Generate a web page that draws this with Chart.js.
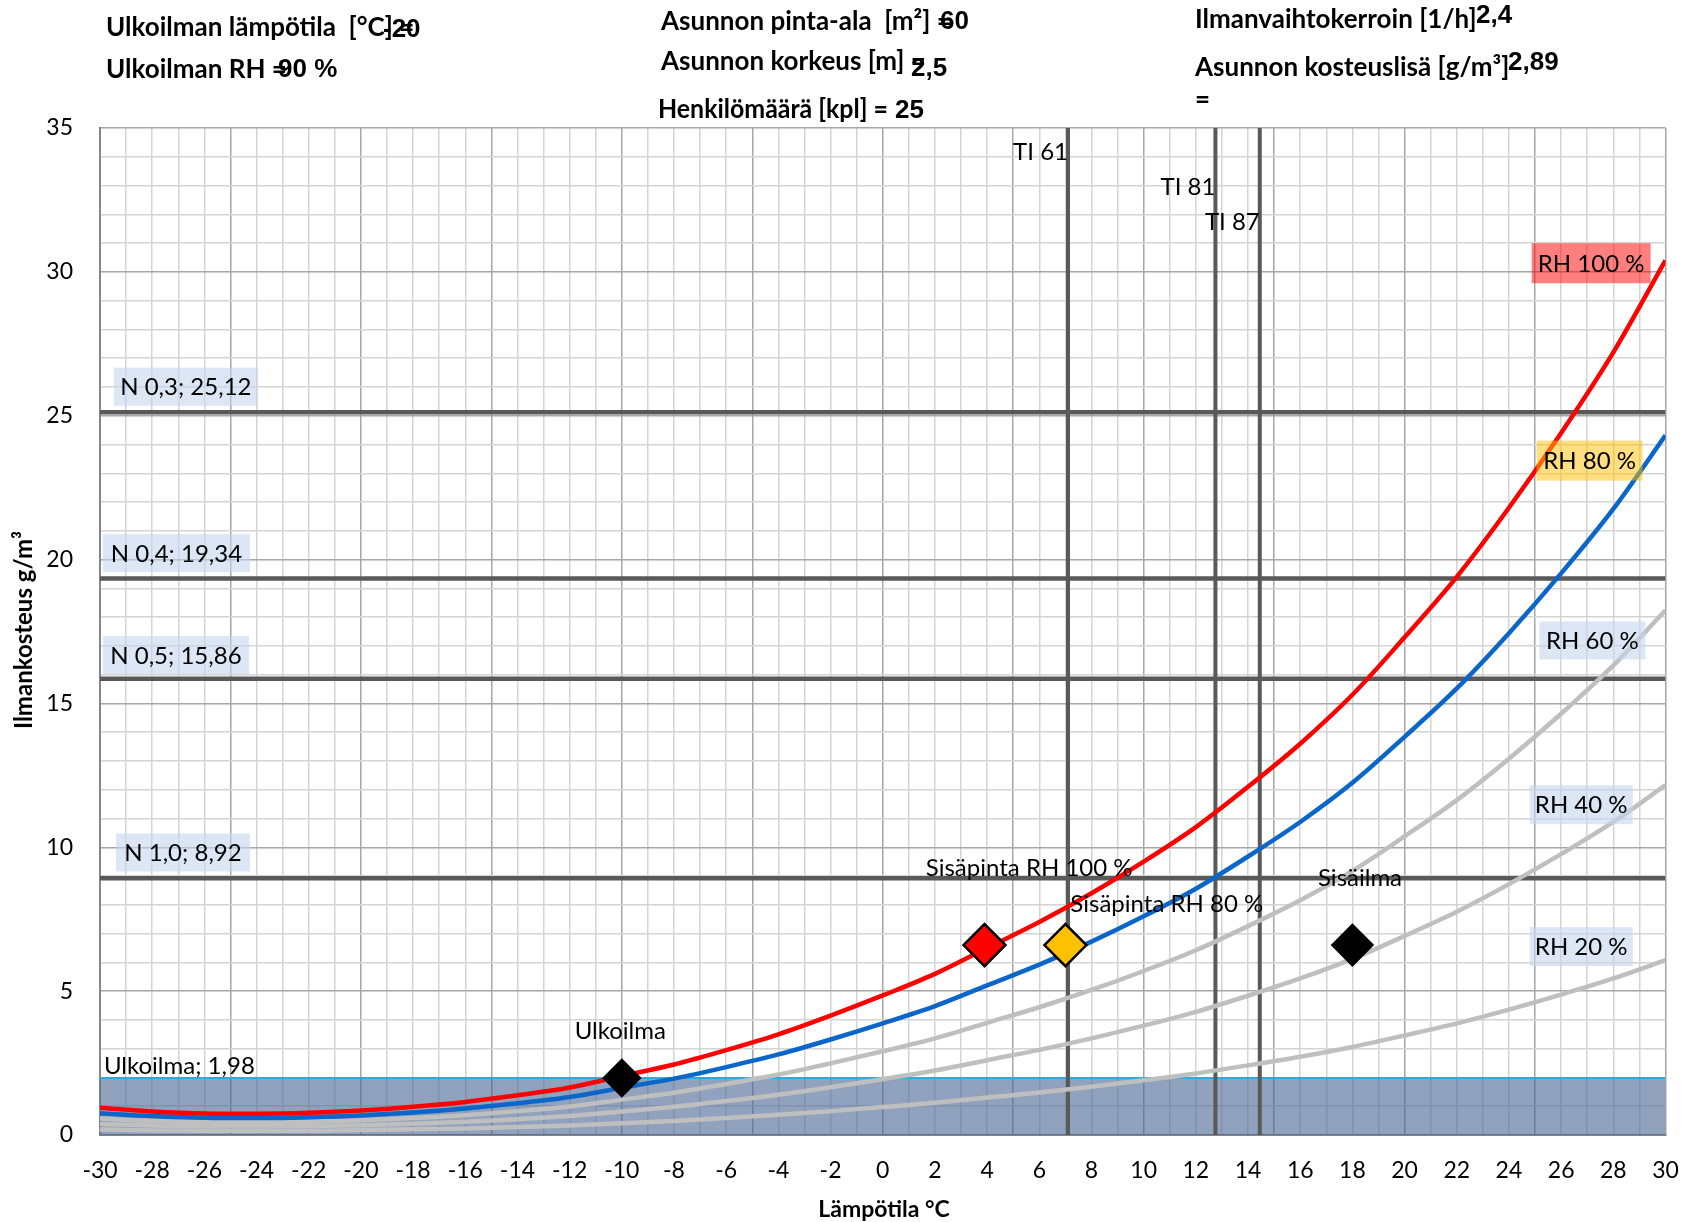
<!DOCTYPE html>
<html>
<head>
<meta charset="utf-8">
<script src="https://cdn.jsdelivr.net/npm/chart.js@4.4.1/dist/chart.umd.min.js"></script>
<style>
html, body { margin: 0; padding: 0; background: #fff; }
</style>
</head>
<body>
<canvas id="chart" width="1688" height="1222"></canvas>
<script>
// temperature steps of the RH curves
var temps = [-30,-28,-26,-24,-22,-20,-18,-16,-14,-12,-10,-8,-6,-4,-2,0,2,4,6,8,10,12,14,16,18,20,22,24,26,28,30];
var rh100 = [0.95,0.82,0.75,0.74,0.77,0.85,0.98,1.15,1.38,1.65,2.05,2.45,2.95,3.5,4.15,4.85,5.6,6.5,7.4,8.4,9.5,10.7,12.1,13.6,15.3,17.3,19.4,21.8,24.4,27.2,30.4];
var rh80 = [0.76,0.66,0.60,0.59,0.62,0.68,0.78,0.92,1.10,1.32,1.64,1.96,2.36,2.80,3.32,3.88,4.48,5.20,5.92,6.72,7.60,8.56,9.68,10.88,12.24,13.84,15.52,17.44,19.52,21.76,24.32];
var rh60 = [0.57,0.49,0.45,0.44,0.46,0.51,0.59,0.69,0.83,0.99,1.23,1.47,1.77,2.10,2.49,2.91,3.36,3.90,4.44,5.04,5.70,6.42,7.26,8.16,9.18,10.38,11.64,13.08,14.64,16.32,18.24];
var rh40 = [0.38,0.33,0.30,0.30,0.31,0.34,0.39,0.46,0.55,0.66,0.82,0.98,1.18,1.40,1.66,1.94,2.24,2.60,2.96,3.36,3.80,4.28,4.84,5.44,6.12,6.92,7.76,8.72,9.76,10.88,12.16];
var rh20 = [0.19,0.16,0.15,0.15,0.15,0.17,0.20,0.23,0.28,0.33,0.41,0.49,0.59,0.70,0.83,0.97,1.12,1.30,1.48,1.68,1.90,2.14,2.42,2.72,3.06,3.46,3.88,4.36,4.88,5.44,6.08];

// N levels (horizontal lines)
var nNames = ['N 0,3', 'N 0,4', 'N 0,5', 'N 1,0'];
var nValues = [25.12, 19.34, 15.86, 8.92];

// TI lines (vertical)
var tiNames = ['TI 61', 'TI 81', 'TI 87'];
var tiValues = [7.1, 12.75, 14.45];

// outdoor air band
var outdoorValue = 1.98;

// diamonds
var markerNames = ['Ulkoilma', 'Sisäpinta RH 100 %', 'Sisäpinta RH 80 %', 'Sisäilma'];
var markerX = [-10, 3.9, 7.0, 18];
var markerY = [1.98, 6.6, 6.6, 6.6];

var xMin = -30, xMax = 30, yMin = 0, yMax = 35;

function pts(ys) {
    return temps.map(function(t, i) { return {x: t, y: ys[i]}; });
}
function hline(v) { return [{x: xMin, y: v}, {x: xMax, y: v}]; }
function vline(v) { return [{x: v, y: yMin}, {x: v, y: yMax}]; }

var datasets = [];
datasets.push({
    data: markerX.map(function(x, i) { return {x: x, y: markerY[i]}; }),
    showLine: false,
    pointStyle: 'rectRot',
    pointRadius: [18, 21, 21, 20],
    pointBorderWidth: 2.5,
    pointBorderColor: '#000',
    pointBackgroundColor: ['#000000', '#FF0000', '#FFC000', '#000000']
});
var curveStyle = [
    [rh100, '#FF0000'],
    [rh80, '#0A66C8'],
    [rh60, '#BFBFBF'],
    [rh40, '#BFBFBF'],
    [rh20, '#BFBFBF']
];
curveStyle.forEach(function(c) {
    datasets.push({data: pts(c[0]), borderColor: c[1], borderWidth: 4.5, pointRadius: 0, cubicInterpolationMode: 'monotone', fill: false});
});
tiValues.forEach(function(v) {
    datasets.push({data: vline(v), borderColor: '#595959', borderWidth: 4, pointRadius: 0, fill: false});
});
nValues.forEach(function(v) {
    datasets.push({data: hline(v), borderColor: '#595959', borderWidth: 4.5, pointRadius: 0, fill: false});
});
datasets.push({
    data: hline(outdoorValue),
    borderColor: '#2AAAE0',
    borderWidth: 2,
    pointRadius: 0,
    fill: 'origin',
    backgroundColor: 'rgba(70,100,145,0.6)'
});

var LBL = '24px Lato';
var boxLabels = [
    {text: 'RH 100 %', x: 27.15, y: 30.3, w: 119, h: 40, bg: 'rgba(255,0,0,0.5)'},
    {text: 'RH 80 %', x: 27.09, y: 23.44, w: 106, h: 40, bg: 'rgba(255,192,0,0.5)'},
    {text: 'RH 60 %', x: 27.2, y: 17.19, w: 106, h: 38, bg: 'rgba(197,214,238,0.6)'},
    {text: 'RH 40 %', x: 26.77, y: 11.48, w: 103, h: 39, bg: 'rgba(197,214,238,0.6)'},
    {text: 'RH 20 %', x: 26.77, y: 6.55, w: 103, h: 39, bg: 'rgba(197,214,238,0.6)'}
];
var nBoxPos = [[-26.71, 26.01, 144], [-27.07, 20.23, 147], [-27.09, 16.68, 146], [-26.82, 9.82, 134]];
nNames.forEach(function(n, i) {
    boxLabels.push({
        text: n + '; ' + String(nValues[i]).replace('.', ','),
        x: nBoxPos[i][0], y: nBoxPos[i][1], w: nBoxPos[i][2], h: 38,
        bg: 'rgba(197,214,238,0.6)'
    });
});
var textLabels = [
    {text: tiNames[0], x: tiValues[0], y: 34.16, align: 'right'},
    {text: tiNames[1], x: tiValues[1], y: 32.95, align: 'right'},
    {text: tiNames[2], x: tiValues[2], y: 31.73, align: 'right'},
    {text: 'Ulkoilma; ' + String(outdoorValue).replace('.', ','), x: -29.85, y: 2.40, align: 'left'},
    {text: markerNames[0], x: -10.06, y: 3.62, align: 'center'},
    {text: markerNames[1], x: 1.65, y: 9.26, align: 'left'},
    {text: markerNames[2], x: 7.19, y: 8.01, align: 'left'},
    {text: markerNames[3], x: 16.68, y: 8.92, align: 'left'}
];

var headerItems = [
    {label: 'Ulkoilman lämpötila  [°C] =', lx: 106, ly: 28, value: '-20', vx: 383, vy: 30},
    {label: 'Ulkoilman RH =', lx: 106, ly: 70, value: '90 %', vx: 278, vy: 70},
    {label: 'Asunnon pinta-ala  [m²] =', lx: 661, ly: 22, value: '60', vx: 940, vy: 22},
    {label: 'Asunnon korkeus [m] =', lx: 661, ly: 62, value: '2,5', vx: 911, vy: 69},
    {label: 'Henkilömäärä [kpl] =', lx: 658, ly: 110, value: '25', vx: 895, vy: 111, mw: 230},
    {label: 'Ilmanvaihtokerroin [1/h]', lx: 1195, ly: 20, value: '2,4', vx: 1476, vy: 16},
    {label: 'Asunnon kosteuslisä [g/m³]', lx: 1195, ly: 68, value: '2,89', vx: 1508, vy: 63},
    {label: '=', lx: 1195, ly: 100, value: '', vx: 0, vy: 0}
];

var labelPlugin = {
    id: 'labels',
    afterDatasetsDraw: function(chart) {
        var ctx = chart.ctx, xs = chart.scales.x, ys = chart.scales.y;
        ctx.save();
        ctx.font = LBL;
        ctx.textBaseline = 'middle';
        boxLabels.forEach(function(b) {
            var cx = xs.getPixelForValue(b.x), cy = ys.getPixelForValue(b.y);
            ctx.fillStyle = b.bg;
            ctx.fillRect(cx - b.w / 2, cy - b.h / 2, b.w, b.h);
            ctx.fillStyle = '#000';
            ctx.textAlign = 'center';
            ctx.fillText(b.text, cx, cy + 1);
        });
        textLabels.forEach(function(t) {
            ctx.fillStyle = '#000';
            ctx.textAlign = t.align;
            ctx.fillText(t.text, xs.getPixelForValue(t.x), ys.getPixelForValue(t.y));
        });
        ctx.restore();
    },
    afterDraw: function(chart) {
        var ctx = chart.ctx;
        ctx.save();
        ctx.fillStyle = '#000';
        ctx.textBaseline = 'middle';
        ctx.textAlign = 'left';
        headerItems.forEach(function(h) {
            ctx.font = 'bold 26px Lato';
            if (h.mw) ctx.fillText(h.label, h.lx, h.ly, h.mw);
            else ctx.fillText(h.label, h.lx, h.ly);
            if (h.value) {
                ctx.font = 'bold 26px "Liberation Sans"';
                ctx.fillText(h.value, h.vx, h.vy);
            }
        });
        ctx.font = 'bold 23px Lato';
        ctx.textAlign = 'center';
        ctx.fillText('Lämpötila °C', 884, 1210);
        ctx.font = 'bold 24px Lato';
        ctx.translate(24, 630);
        ctx.rotate(-Math.PI / 2);
        ctx.fillText('Ilmankosteus g/m³', 0, 0);
        ctx.restore();
    }
};

var config = {
    type: 'line',
    data: { datasets: datasets },
    options: {
        responsive: false,
        animation: false,
        layout: { padding: { left: 0, top: 128, right: 0, bottom: 0 } },
        plugins: { legend: { display: false }, tooltip: { enabled: false } },
        scales: {
            x: {
                type: 'linear', min: xMin, max: xMax,
                afterFit: function(s) { s.height = 87; s.paddingRight = 9; },
                border: { color: '#868686', width: 2 },
                grid: {
                    drawTicks: false,
                    lineWidth: 1.5,
                    color: function(c) { return c.tick && c.tick.value % 5 === 0 ? '#A6A6A6' : '#D4D4D4'; }
                },
                ticks: {
                    stepSize: 1, autoSkip: false, maxRotation: 0, padding: 22,
                    color: '#000', font: { family: 'Lato', size: 23 },
                    callback: function(v) { return v % 2 === 0 ? String(v) : ''; }
                }
            },
            y: {
                type: 'linear', min: yMin, max: yMax,
                afterFit: function(s) { s.width = 100; },
                border: { color: '#868686', width: 2 },
                grid: {
                    drawTicks: false,
                    lineWidth: 1.5,
                    color: function(c) { return c.tick && c.tick.value % 5 === 0 ? '#A6A6A6' : '#D4D4D4'; }
                },
                ticks: {
                    stepSize: 1, autoSkip: false, padding: 27,
                    color: '#000', font: { family: 'Lato', size: 23 },
                    callback: function(v) { return v % 5 === 0 ? String(v) : ''; }
                }
            }
        }
    },
    plugins: [labelPlugin]
};

window.onload = function() {
    var ctx = document.getElementById('chart').getContext('2d');
    window.myChart = new Chart(ctx, config);
};
</script>
</body>
</html>
